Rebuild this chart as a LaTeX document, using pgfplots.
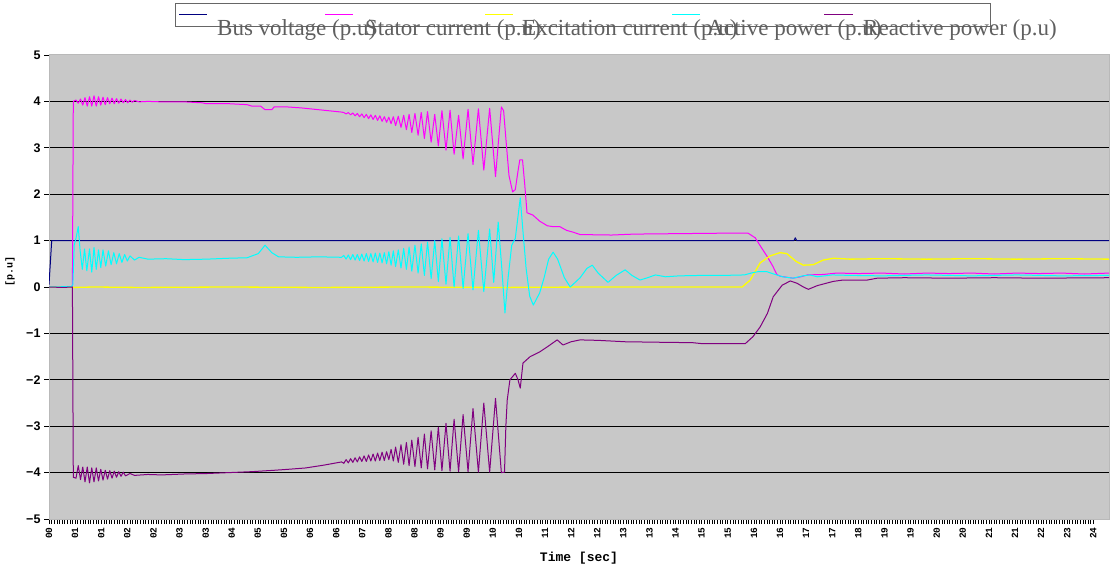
\documentclass[border=0pt]{standalone}
\usepackage{fontspec}
\setmainfont{Liberation Serif}
\newfontfamily\monob{Liberation Mono}
\newfontfamily\sansb{Liberation Sans}
\usepackage{pgfplots}
\pgfplotsset{compat=1.18}

\definecolor{plotbg}{RGB}{200,200,200}
\definecolor{busv}{RGB}{0,0,128}
\definecolor{stat}{RGB}{255,0,255}
\definecolor{exci}{RGB}{255,255,0}
\definecolor{actp}{RGB}{0,255,255}
\definecolor{reac}{RGB}{128,0,128}
\definecolor{legtxt}{RGB}{95,95,95}

\begin{document}
\begin{tikzpicture}[x=1pt,y=1pt]
\useasboundingbox (0,0) rectangle (1110,568);
\begin{axis}[
  at={(49pt,49pt)}, anchor=south west,
  scale only axis, width=1060pt, height=464pt,
  xmin=0, xmax=23.55, ymin=-5, ymax=5,
  axis background/.style={fill=plotbg},
  ytick={-4,-3,-2,-1,1,2,3,4},
  yticklabels={−4,−3,−2,−1,1,2,3,4},
  extra y ticks={-5,0,5},
  extra y tick labels={−5,0,5},
  extra y tick style={grid=none},
  ymajorgrids,
  major grid style={black, line width=1.1pt},
  xtick={0,0.58,1.16,1.74,2.32,2.9,3.48,4.06,4.64,5.22,5.8,6.38,6.96,7.54,8.12,8.7,9.28,9.86,10.44,11.02,11.6,12.18,12.76,13.34,13.92,14.5,15.08,15.66,16.24,16.82,17.4,17.98,18.56,19.14,19.72,20.3,20.88,21.46,22.04,22.62,23.2},
  xticklabels={00,01,01,02,02,03,03,04,05,05,06,06,07,08,08,09,09,10,10,11,12,12,13,13,14,15,15,16,16,17,17,18,19,19,20,20,21,21,22,23,24},
  minor x tick num=9,
  tick align=outside, xtick pos=left, ytick pos=left,
  major tick length=5pt, minor tick length=5pt,
  tick style={black, line width=0.6pt},
  axis line style={draw=gray!55, line width=1pt},
  x tick label style={rotate=90, anchor=east, font=\monob\bfseries\fontsize{9.5}{10}\selectfont},
  y tick label style={font=\sansb\bfseries\fontsize{12.5}{13}\selectfont},
  xlabel={Time [sec]},
  ylabel={[p.u]},
  xlabel style={at={(axis description cs:0.5,0)}, anchor=center, yshift=-39pt, font=\monob\bfseries\fontsize{13}{14}\selectfont},
  ylabel style={at={(axis description cs:-0.0368,0.534)}, anchor=center, font=\monob\bfseries\fontsize{10}{11}\selectfont},
  every axis plot/.append style={line width=1pt, line join=round},
]
% Bus voltage
\addplot[busv] coordinates {
(0,0.05) (0.06,1) (16.55,1) (16.58,1.06) (16.61,1) (23.55,1)
};
% Stator current
\addplot[stat] coordinates {
(0,0) (0.3,0.01) (0.52,0) (0.54,4.0) (0.6,4.03) (0.65,3.96) (0.7,4.05) (0.75,3.92) (0.8,4.08) (0.85,3.9) (0.9,4.1) (0.95,3.9) (1.0,4.12) (1.05,3.9) (1.1,4.1) (1.15,3.92) (1.2,4.09) (1.25,3.93) (1.3,4.08) (1.35,3.95) (1.4,4.07) (1.45,3.95) (1.5,4.06) (1.55,3.96) (1.6,4.05) (1.65,3.97) (1.7,4.04) (1.75,3.97) (1.8,4.03) (1.85,3.98) (1.9,4.02) (2.0,3.99) (2.2,4.0) (2.5,3.99) (3.0,3.99) (3.4,3.97) (3.5,3.95) (4.0,3.95) (4.4,3.93) (4.5,3.9) (4.7,3.9) (4.8,3.82) (4.95,3.82) (5.0,3.88) (5.3,3.88) (5.6,3.86) (5.9,3.83) (6.2,3.8) (6.5,3.77)
(6.55,3.76) (6.6,3.73) (6.65,3.76) (6.7,3.71) (6.75,3.75) (6.8,3.69) (6.85,3.74) (6.9,3.67) (6.95,3.73) (7.0,3.65) (7.05,3.72) (7.1,3.63) (7.15,3.71) (7.2,3.61) (7.25,3.7) (7.3,3.59) (7.35,3.69) (7.4,3.57) (7.45,3.67)
(7.50,3.55) (7.55,3.66) (7.60,3.52) (7.65,3.67) (7.70,3.48) (7.76,3.68) (7.82,3.44) (7.88,3.70) (7.94,3.39) (8.00,3.72) (8.06,3.33) (8.13,3.74) (8.20,3.27) (8.27,3.76) (8.34,3.20) (8.41,3.78) (8.49,3.12) (8.57,3.72) (8.65,3.04) (8.73,3.80) (8.82,2.95) (8.91,3.81) (9.00,2.86) (9.10,3.7) (9.20,2.76) (9.31,3.83) (9.42,2.64) (9.54,3.84) (9.66,2.52) (9.79,3.85) (9.92,2.38) (10.05,3.88)
(10.1,3.8) (10.15,3.2) (10.22,2.4) (10.3,2.05) (10.36,2.1) (10.42,2.5) (10.46,2.74) (10.52,2.74) (10.57,2.2) (10.62,1.6) (10.75,1.55) (10.9,1.42) (11.07,1.32) (11.2,1.3) (11.35,1.3) (11.5,1.22) (11.65,1.18) (11.8,1.13) (12.5,1.12) (13.0,1.14) (14.0,1.15) (15.0,1.16) (15.53,1.16) (15.69,1.06) (15.82,0.86) (15.96,0.65) (16.08,0.45) (16.17,0.27) (16.25,0.23) (16.53,0.19) (16.7,0.22) (16.85,0.26) (17.2,0.27) (17.5,0.3) (18.0,0.29) (18.5,0.3) (19.0,0.28) (19.5,0.3) (20.0,0.29) (20.5,0.3) (21.0,0.28) (21.5,0.3) (22.0,0.29) (22.5,0.3) (23.0,0.28) (23.55,0.3)
};
% Excitation current
\addplot[exci, line width=1.3pt] coordinates {
(0,0) (0.5,0.0) (0.55,-0.01) (1,0) (2,-0.01) (4,0) (6,-0.01) (8,0) (10,-0.01) (12,0) (14,0) (15.4,0.0) (15.58,0.15) (15.8,0.52) (16.02,0.67) (16.24,0.74) (16.39,0.72) (16.6,0.55) (16.76,0.47) (16.98,0.48) (17.2,0.58) (17.43,0.62) (17.8,0.6) (18.5,0.61) (19.5,0.6) (20.5,0.61) (21.5,0.6) (22.5,0.61) (23.55,0.6)
};
% Active power
\addplot[actp] coordinates {
(0,0) (0.5,0.01) (0.53,0.05) (0.56,0.9) (0.6,1.05) (0.65,1.3) (0.69,0.8) (0.74,0.38) (0.79,0.82) (0.84,0.35) (0.9,0.82) (0.95,0.32) (1.0,0.85) (1.05,0.38) (1.1,0.8) (1.15,0.42) (1.2,0.8) (1.26,0.45) (1.32,0.78) (1.38,0.48) (1.44,0.74) (1.5,0.5) (1.56,0.72) (1.62,0.53) (1.68,0.7) (1.74,0.56) (1.8,0.67) (1.9,0.58) (2.0,0.64) (2.2,0.6) (2.6,0.61) (3.0,0.59) (3.5,0.6) (4.0,0.62) (4.4,0.63) (4.65,0.72) (4.8,0.9) (4.95,0.74) (5.1,0.65) (5.5,0.64) (6.0,0.65) (6.5,0.64)
(6.55,0.68) (6.6,0.6) (6.65,0.69) (6.7,0.59) (6.75,0.7) (6.8,0.58) (6.85,0.7) (6.9,0.57) (6.95,0.71) (7.0,0.56) (7.05,0.72) (7.1,0.55) (7.15,0.72) (7.2,0.54) (7.25,0.73) (7.3,0.53) (7.35,0.73) (7.4,0.52) (7.45,0.74)
(7.50,0.5) (7.55,0.76) (7.60,0.47) (7.65,0.78) (7.70,0.44) (7.76,0.8) (7.82,0.41) (7.88,0.83) (7.94,0.38) (8.00,0.86) (8.06,0.34) (8.13,0.9) (8.20,0.3) (8.27,0.93) (8.34,0.25) (8.41,0.97) (8.49,0.18) (8.57,1.0) (8.65,0.12) (8.73,1.04) (8.82,0.06) (8.91,1.07) (9.00,0.0) (9.10,1.1) (9.20,-0.03) (9.31,1.15) (9.42,-0.06) (9.54,1.22) (9.66,-0.1) (9.79,1.25) (9.88,0.1) (9.98,1.4)
(10.06,0.4) (10.13,-0.56) (10.2,0.2) (10.28,0.9) (10.36,1.05) (10.47,1.92) (10.53,1.2) (10.6,0.4) (10.68,-0.2) (10.76,-0.39) (10.9,-0.13) (11.0,0.2) (11.1,0.6) (11.2,0.75) (11.3,0.6) (11.45,0.2) (11.58,0.0) (11.8,0.2) (11.95,0.4) (12.07,0.47) (12.2,0.3) (12.42,0.1) (12.6,0.25) (12.8,0.37) (12.95,0.25) (13.13,0.15) (13.3,0.2) (13.47,0.26) (13.7,0.22) (14.0,0.24) (14.5,0.25) (15.0,0.25) (15.45,0.26) (15.6,0.3) (15.75,0.33) (15.95,0.33) (16.1,0.28) (16.3,0.22) (16.53,0.19) (16.75,0.24) (16.9,0.26) (17.07,0.22) (17.4,0.26) (17.8,0.25) (18.5,0.24) (19.5,0.26) (20.5,0.24) (21.5,0.26) (22.5,0.24) (23.55,0.25)
};
% Reactive power
\addplot[reac] coordinates {
(0,0) (0.3,-0.01) (0.52,0) (0.54,-4.1) (0.6,-4.12) (0.65,-3.85) (0.7,-4.15) (0.75,-3.88) (0.8,-4.2) (0.85,-3.88) (0.9,-4.22) (0.95,-3.9) (1.0,-4.2) (1.05,-3.9) (1.1,-4.18) (1.15,-3.93) (1.2,-4.16) (1.25,-3.95) (1.3,-4.14) (1.35,-3.96) (1.4,-4.12) (1.45,-3.97) (1.5,-4.1) (1.55,-3.98) (1.6,-4.08) (1.65,-3.99) (1.7,-4.07) (1.8,-4.02) (1.9,-4.06) (2.2,-4.04) (2.5,-4.05) (3.0,-4.03) (3.5,-4.02) (4.0,-4.0) (4.5,-3.98) (5.0,-3.95) (5.3,-3.93) (5.7,-3.9) (6.1,-3.84) (6.5,-3.77)
(6.55,-3.8) (6.6,-3.72) (6.65,-3.79) (6.7,-3.7) (6.75,-3.78) (6.8,-3.68) (6.85,-3.77) (6.9,-3.66) (6.95,-3.76) (7.0,-3.64) (7.05,-3.76) (7.1,-3.62) (7.15,-3.75) (7.2,-3.6) (7.25,-3.75) (7.3,-3.58) (7.35,-3.74) (7.4,-3.56) (7.45,-3.74)
(7.50,-3.55) (7.55,-3.72) (7.60,-3.5) (7.65,-3.75) (7.70,-3.45) (7.76,-3.78) (7.82,-3.4) (7.88,-3.82) (7.94,-3.35) (8.00,-3.85) (8.06,-3.3) (8.13,-3.87) (8.20,-3.24) (8.27,-3.9) (8.34,-3.17) (8.41,-3.92) (8.49,-3.1) (8.57,-3.94) (8.65,-3.02) (8.73,-3.96) (8.82,-2.94) (8.91,-3.97) (9.00,-2.85) (9.10,-3.98) (9.20,-2.75) (9.31,-3.98) (9.42,-2.62) (9.54,-3.99) (9.66,-2.5) (9.79,-3.99) (9.92,-2.4) (10.05,-4.0)
(10.12,-3.99) (10.15,-3.0) (10.18,-2.44) (10.24,-2.0) (10.36,-1.86) (10.42,-2.0) (10.47,-2.18) (10.53,-1.64) (10.69,-1.5) (10.9,-1.4) (11.07,-1.29) (11.29,-1.14) (11.42,-1.25) (11.6,-1.18) (11.8,-1.14) (12.2,-1.15) (12.8,-1.18) (13.5,-1.19) (14.3,-1.2) (14.5,-1.22) (15.47,-1.22) (15.64,-1.07) (15.8,-0.86) (15.96,-0.57) (16.09,-0.21) (16.29,0.04) (16.47,0.13) (16.62,0.08) (16.76,0.0) (16.87,-0.05) (17.07,0.03) (17.42,0.12) (17.64,0.15) (18.18,0.15) (18.4,0.19) (19.0,0.2) (20,0.19) (21,0.2) (22,0.19) (23.55,0.2)
};
\end{axis}
% legend, drawn as in the original with its overflowing labels
\draw[draw=gray!80!black, line width=1pt] (175.5,564.5) rectangle (990,541.5);
\draw[busv, line width=1pt] (179,553.5) -- (207,553.5);
\draw[stat, line width=1pt] (325,553.5) -- (353,553.5);
\draw[exci, line width=1pt] (485,553.5) -- (513,553.5);
\draw[actp, line width=1pt] (672,553.5) -- (700,553.5);
\draw[reac, line width=1pt] (824,553.5) -- (853,553.5);
\begin{scope}[every node/.style={anchor=base west, inner sep=0pt, text=legtxt, font=\fontsize{23}{23}\selectfont}]
\node at (217,532) {Bus voltage (p.u)};
\node at (365,532) {Stator current (p.u)};
\node at (522,532) {Excitation current (p.u)};
\node at (707,532) {Active power (p.u)};
\node at (863,532) {Reactive power (p.u)};
\end{scope}
\end{tikzpicture}
\end{document}
